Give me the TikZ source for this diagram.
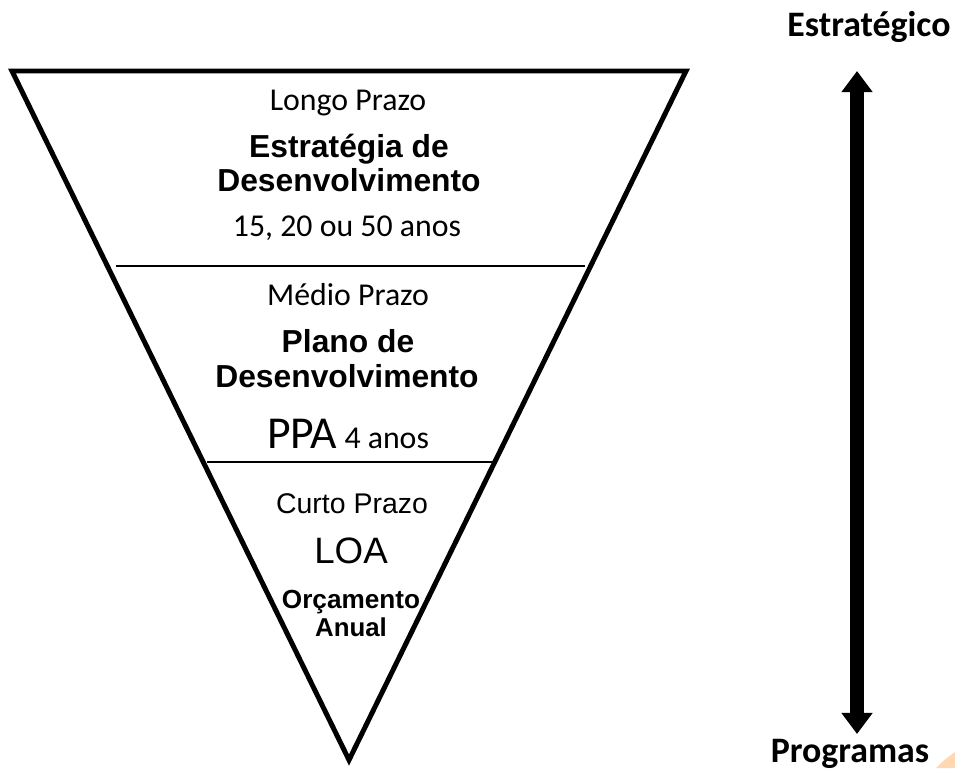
\documentclass[tikz,border=0pt]{standalone}
\usepackage{fontspec}
\setmainfont{Carlito}
\newfontfamily\arialfont{Liberation Sans}
\usetikzlibrary{arrows.meta}

\begin{document}
\begin{tikzpicture}[x=0.02cm, y=-0.02cm, >={Triangle[width=17pt, length=12pt]},
    every node/.style={inner sep=0pt, anchor=base},
    prazo/.style={font=\fontsize{18.1}{21}\selectfont},
    titulo/.style={font=\arialfont\bfseries\fontsize{18.1}{21}\selectfont},
    nivel/.style={font=\bfseries\fontsize{20.4}{24}\selectfont}]
      \useasboundingbox (0,0) rectangle (955,768);

      % funil
      \draw[line width=2.83pt] (12,71) -- (686,71) -- (349,760) -- cycle;
      \draw[line width=1.1pt] (116,266) -- (585,266);
      \draw[line width=1.1pt] (207,462) -- (495,462);

      \node[prazo] at (348,110) (longo) {Longo Prazo};
      \node[titulo] at (349,157) (estrat) {Estratégia de};
      \node[titulo] at (349,191) (desenv1) {Desenvolvimento};
      \node[prazo] at (347,236) (anos1) {15, 20 ou 50 anos};

      \node[prazo] at (348,305) (medio) {Médio Prazo};
      \node[titulo] at (348,352) (plano) {Plano de};
      \node[titulo] at (347,387) (desenv2) {Desenvolvimento};
      \node[prazo] at (348,448) (ppa) {{\fontsize{26}{30}\selectfont PPA} {\fontsize{18.1}{21}\selectfont 4 anos}};

      \node[font=\arialfont\fontsize{16.2}{19}\selectfont] at (352,513) (curto) {Curto Prazo};
      \node[font=\arialfont\fontsize{20.9}{24}\selectfont] at (351,563) (loa) {LOA};
      \node[font=\arialfont\bfseries\fontsize{14.9}{17}\selectfont] at (351,608) (orcamento) {Orçamento};
      \node[font=\arialfont\bfseries\fontsize{14.7}{17}\selectfont] at (351,636) (anual) {Anual};

      % eixo
      \node[nivel] at (869,36) (estrategico) {Estratégico};
      \node[nivel] at (850,762) (programas) {Programas};
      \coordinate (cima) at (857,71);
      \coordinate (baixo) at (857,734);
      \draw[line width=8.5pt, <->] (cima) -- (baixo);

      \fill[orange!60, opacity=0.5] (936,768) .. controls (944,760) .. (955,752) -- (955,768) -- cycle;
    \end{tikzpicture}
\end{document}
